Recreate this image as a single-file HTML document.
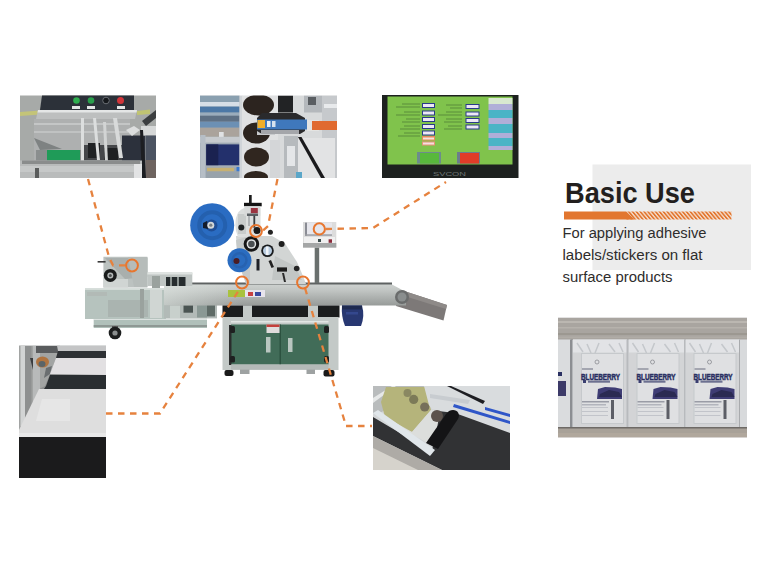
<!DOCTYPE html>
<html><head><meta charset="utf-8">
<style>
html,body{margin:0;padding:0;background:#fff;width:768px;height:576px;overflow:hidden}
svg{display:block}
text{font-family:"Liberation Sans",sans-serif}
</style></head><body>
<svg width="768" height="576" viewBox="0 0 768 576">
<defs>
<pattern id="hatch" patternUnits="userSpaceOnUse" width="3.85" height="8" patternTransform="translate(0,211.5) skewX(40)">
<rect width="3.85" height="8" fill="#f4dccb"/><rect width="2.1" height="8" fill="#e2762f"/>
</pattern>
<linearGradient id="conv" x1="0" y1="0" x2="0" y2="1">
<stop offset="0" stop-color="#cdd1cf"/><stop offset="0.3" stop-color="#c0c4c2"/><stop offset="0.6" stop-color="#aeb2b0"/><stop offset="1" stop-color="#979b99"/>
</linearGradient>
<linearGradient id="steel" x1="0" y1="0" x2="1" y2="0">
<stop offset="0" stop-color="#c8cecb"/><stop offset="0.5" stop-color="#dde1df"/><stop offset="1" stop-color="#b5bbb8"/>
</linearGradient>
<clipPath id="c2"><rect x="200" y="95.5" width="137" height="82.5"/></clipPath>
<clipPath id="c4"><rect x="558" y="317.5" width="189" height="120"/></clipPath>
<clipPath id="c5"><rect x="19" y="345.5" width="87" height="132.5"/></clipPath>
<clipPath id="c6"><rect x="373" y="386" width="137" height="84"/></clipPath>
<linearGradient id="convfade" x1="0" y1="0" x2="1" y2="0">
<stop offset="0" stop-color="#dfe6e2" stop-opacity="0.6"/><stop offset="1" stop-color="#dfe6e2" stop-opacity="0"/>
</linearGradient>
</defs>
<rect width="768" height="576" fill="#fff"/>
<!-- P1 feeder photo -->
<g>
<rect x="20" y="95.5" width="136" height="82.5" fill="#a7aaa8"/>
<path d="M20 112 L40 110.5 L40 114.5 L20 116Z" fill="#c4c478"/>
<path d="M137 111 L150 109.5 L150 114 L137 115Z" fill="#c0c472"/>
<path d="M42 95.5 H134 V110 H40Z" fill="#2c3139"/>
<circle cx="76.5" cy="100.5" r="3.3" fill="#2fae4f"/>
<circle cx="91" cy="100.5" r="3.3" fill="#2a9f4c"/>
<circle cx="106" cy="100.5" r="3.3" fill="#15181c" stroke="#6a6e74" stroke-width="1"/>
<circle cx="120.5" cy="100.5" r="3.5" fill="#d2353a"/>
<rect x="72" y="106" width="8" height="3" fill="#e4e6e6"/>
<rect x="87" y="106" width="8" height="3" fill="#e4e6e6"/>
<rect x="117" y="106" width="8" height="3" fill="#e4e6e6"/>
<path d="M38 110 H137 L135 119 H36Z" fill="#bdbfbf"/>
<path d="M38 110 H137 L136.5 112.5 H37.5Z" fill="#e4e6e6"/>
<path d="M34 119 H130 V160 H34Z" fill="#aeb0b0"/>
<path d="M34 123 H130 V125 H34Z" fill="#c4c6c6"/>
<path d="M34 131 H128 V133 H34Z" fill="#c0c2c2"/>
<path d="M34 138 L62 149 L40 150Z" fill="#7e8282"/>
<path d="M36 150 H84 V161 H36Z" fill="#8a8e8e"/>
<path d="M47 150 H80 V160.5 H47Z" fill="#1f9b58"/>
<path d="M82 145 H122 V160.5 H82Z" fill="#45474a"/>
<path d="M88 143 H100 V158 H88Z" fill="#202224"/>
<path d="M104 148 H118 V160 H104Z" fill="#1e2022"/>
<path d="M122 135.5 H145 V162 H122Z" fill="#2c313c"/>
<path d="M141 126 H156 V135.5 H141Z" fill="#d6d8d8"/>
<path d="M145.4 135.5 H156 V178 H145.4Z" fill="#4c5462"/>
<path d="M145.4 160 H156 V178 H145.4Z" fill="#6e6460"/>
<path d="M140 130 L143 130 L146 178 L142 178Z" fill="#1c1e22"/>
<path d="M126 130 L134 126 L140 130 L132 136Z" fill="#dcdede"/>
<rect x="81" y="118" width="3" height="44" fill="#dcdede"/>
<path d="M93 118 L96 118 L100 160 L97 160Z" fill="#dcdede"/>
<path d="M103 122 L106 122 L108 162 L105 162Z" fill="#d2d4d4"/>
<path d="M113 118 L117 118 L123 158 L119 158Z" fill="#d8dada"/>
<path d="M142 121 L156 110 V118 L146 126Z" fill="#3b3e40"/>
<path d="M20 160.5 H142 V178 H20Z" fill="#b9bbbb"/>
<path d="M22 160.5 H140 V164 H22Z" fill="#8a8c8c"/>
<path d="M20 166 H140 V172 H20Z" fill="#c6c8c8"/>
<path d="M134 164 H142 V178 H134Z" fill="#e2e3e4"/>
<rect x="35" y="168" width="4" height="10" fill="#5a5c5c"/>
</g>
<!-- P2 label head photo -->
<g clip-path="url(#c2)">
<rect x="200" y="95.5" width="137" height="82.5" fill="#cdd0d2"/>
<rect x="200" y="95.5" width="39.5" height="82.5" fill="#9aa6b0"/>
<rect x="200" y="95.5" width="39.5" height="6.5" fill="#8aa0b0"/>
<rect x="200" y="102" width="39.5" height="4.6" fill="#d6dee6"/>
<rect x="200" y="106.6" width="39.5" height="6" fill="#4c78a6"/>
<rect x="200" y="112.6" width="39.5" height="3.1" fill="#9aacbc"/>
<rect x="200" y="115.7" width="39.5" height="6" fill="#5e7084"/>
<rect x="200" y="121.7" width="39.5" height="6" fill="#6c90b4"/>
<rect x="200" y="127.7" width="39.5" height="9.1" fill="#aaa39c"/>
<rect x="219" y="132" width="4.7" height="6" fill="#e0e2e4"/>
<rect x="200" y="136.8" width="39.5" height="6" fill="#c6cace"/>
<rect x="200.3" y="135" width="5.2" height="43" fill="#b6bec6"/>
<rect x="206" y="142.8" width="33.5" height="2" fill="#a0aab4"/>
<rect x="206.3" y="144.4" width="33.2" height="21.1" fill="#23306c"/>
<rect x="206.3" y="144.4" width="12" height="21.1" fill="#1a2250"/>
<rect x="206" y="165.5" width="33.5" height="2.3" fill="#a4acb4"/>
<rect x="207" y="167.8" width="27" height="3.7" fill="#c6b072"/>
<rect x="236.5" y="167" width="3.5" height="4.5" fill="#3a78d0"/>
<rect x="206" y="171.5" width="33.5" height="6.5" fill="#98a2aa"/>
<rect x="239.5" y="95.5" width="3" height="82.5" fill="#d0d4d8"/>
<rect x="242" y="95.5" width="36" height="82.5" fill="#e0e1e2"/>
<ellipse cx="258.5" cy="105" rx="15.5" ry="10.5" fill="#2c241f"/>
<ellipse cx="256.5" cy="133" rx="13.5" ry="10.5" fill="#2c241f"/>
<ellipse cx="256.5" cy="157" rx="12.5" ry="9.5" fill="#30261f"/>
<ellipse cx="256" cy="177" rx="12" ry="6" fill="#30261f"/>
<rect x="257" y="129" width="18" height="6" fill="#c8cacc"/>
<rect x="278" y="95.5" width="59" height="82.5" fill="#d8dadb"/>
<rect x="278" y="95.5" width="15" height="17" fill="#222325"/>
<rect x="304" y="95.5" width="18" height="17" fill="#b4b8bc"/>
<rect x="308" y="97" width="8" height="8" fill="#5a5e62"/>
<rect x="322" y="95.5" width="15" height="82.5" fill="#c6c9cc"/>
<rect x="324" y="104" width="13" height="4" fill="#e8eaec"/>
<path d="M262 113 H296 L305 118 V131 L300 134 H262 L257 131 V118Z" fill="#2a2a2c"/>
<rect x="257" y="119.5" width="50" height="10" fill="#3f78bc"/>
<rect x="257.5" y="120" width="7.5" height="8" fill="#f0ae2a"/>
<rect x="267" y="121" width="3.5" height="6" fill="#e6eef6"/>
<rect x="272" y="121" width="3.5" height="6" fill="#d6e2ee"/>
<rect x="307" y="120" width="12" height="11" fill="#e4e4e2"/>
<rect x="312" y="121" width="25" height="9" fill="#e06a30"/>
<rect x="261" y="130" width="38" height="4" fill="#a4a6aa"/>
<rect x="284" y="136" width="14" height="42" fill="#b6babd"/>
<rect x="287" y="146" width="8" height="20" fill="#e4e6e8"/>
<rect x="270" y="140" width="10" height="38" fill="#d4d6d8"/>
<rect x="298" y="138" width="37" height="40" fill="#e2e3e4"/>
<path d="M298 137 L301.5 137 L325 178 L321 178Z" fill="#1a1a1c"/>
<rect x="296" y="172" width="6" height="6" fill="#5aa6c8"/>
</g>
<!-- P3 screen photo -->
<g>
<rect x="382" y="95" width="136.5" height="83" fill="#1d211f"/>
<rect x="387.5" y="96.5" width="125" height="68" fill="#80c34c"/>
<g fill="#5c8f3c" opacity="0.5">
<rect x="402" y="103" width="18" height="2"/><rect x="396" y="106" width="24" height="2"/>
<rect x="404" y="111" width="16" height="2"/><rect x="396" y="114" width="24" height="2"/>
<rect x="406" y="118" width="14" height="2"/><rect x="402" y="121" width="18" height="2"/>
<rect x="404" y="125" width="16" height="2"/><rect x="400" y="128" width="20" height="2"/>
<rect x="404" y="132" width="16" height="2"/><rect x="398" y="135" width="22" height="2"/>
<rect x="446" y="104" width="16" height="2"/><rect x="450" y="107" width="12" height="2"/>
<rect x="446" y="111" width="16" height="2"/><rect x="438" y="114" width="24" height="2"/>
<rect x="446" y="118" width="16" height="2"/><rect x="444" y="121" width="18" height="2"/>
<rect x="448" y="125" width="14" height="2"/><rect x="444" y="128" width="18" height="2"/>
</g>
<g fill="#ece8f4" stroke="#2a3a8a" stroke-width="1">
<rect x="422.5" y="103.5" width="12" height="4"/><rect x="422.5" y="111" width="12" height="4"/>
<rect x="422.5" y="117.5" width="12" height="4"/><rect x="422.5" y="124.5" width="12" height="4"/>
<rect x="422.5" y="131" width="12" height="4"/>
<rect x="466" y="104.5" width="13" height="4"/><rect x="466" y="112" width="13" height="4"/>
<rect x="466" y="118.5" width="13" height="4"/><rect x="466" y="125" width="13" height="4"/>
</g>
<rect x="422" y="136" width="13" height="4.5" fill="#e88a5a"/><rect x="423" y="137.5" width="11" height="2" fill="#f4e4dc"/>
<rect x="422" y="141.5" width="13" height="4" fill="#e8907a"/><rect x="423" y="142.5" width="11" height="2" fill="#f4e0e0"/>
<rect x="488.5" y="98" width="24" height="6" fill="#d8e8d0"/>
<rect x="488.5" y="104" width="24" height="6" fill="#b0aed8"/>
<rect x="488.5" y="110" width="24" height="8" fill="#4ab4c6"/>
<rect x="488.5" y="118" width="24" height="6" fill="#b0aed8"/>
<rect x="488.5" y="124" width="24" height="9" fill="#4ab4c6"/>
<rect x="488.5" y="133" width="24" height="5" fill="#b0aed8"/>
<rect x="488.5" y="138" width="24" height="8" fill="#4ab4c6"/>
<rect x="488.5" y="146" width="24" height="4" fill="#b0aed8"/>
<rect x="417" y="152" width="24" height="11.5" fill="#6c8c8c"/>
<rect x="420" y="153" width="19" height="10.5" fill="#58b83c"/>
<rect x="457" y="152" width="23" height="11.5" fill="#6c7c8c"/>
<rect x="460" y="153" width="19" height="10.5" fill="#e03c28"/>
<text x="433" y="176" font-size="5.5" fill="#6e7676" textLength="33" lengthAdjust="spacingAndGlyphs">SVCON</text>
</g>
<!-- Basic use panel -->
<rect x="592.5" y="164.5" width="158.5" height="105.5" fill="#ececec"/>
<!-- P4 bags photo -->
<g clip-path="url(#c4)">
<rect x="558" y="317.5" width="189" height="120" fill="#dfe0e2"/>
<rect x="558" y="317.5" width="189" height="22.5" fill="#a9a5a0"/>
<rect x="558" y="321" width="189" height="2" fill="#bbb7b1"/>
<rect x="558" y="327" width="189" height="1.5" fill="#b6b2ac"/>
<rect x="558" y="333" width="189" height="2" fill="#9c9891"/>
<rect x="558" y="336.5" width="189" height="1.5" fill="#b0aca6"/>
<rect x="558" y="427" width="189" height="10.5" fill="#a8a198"/>
<rect x="558" y="427" width="189" height="1.5" fill="#6e6a66"/>
<rect x="558" y="433" width="189" height="4.5" fill="#b0a79c"/>
<rect x="558" y="339.5" width="13" height="87.5" fill="#dadcde"/>
<rect x="558" y="372" width="4" height="4" fill="#2a3062"/>
<path d="M558 381 H566 V396 H558Z" fill="#3c3a68"/>
<rect x="570" y="339.5" width="2.5" height="87.5" fill="#8c8e92"/>
<g transform="translate(573,0)">
<rect x="0" y="339.5" width="54" height="87.5" fill="#d3d4d6"/>
<rect x="0" y="339.5" width="54" height="13" fill="#e2e3e6"/>
<path d="M4 343 L10 352 M14 344 L18 353 M26 343 L22 353 M36 344 L42 352 M46 343 L50 352" stroke="#c4c7cb" stroke-width="1.5"/>
<rect x="8.5" y="353.5" width="42" height="70" fill="#dfe0e2" stroke="#c6c9cc" stroke-width="1"/>
<circle cx="24" cy="362" r="2" fill="none" stroke="#8a8c92" stroke-width="0.8"/>
<rect x="9" y="368" width="11" height="2" fill="#a4a6b0"/>
<text x="8" y="379.5" font-size="8.6" font-weight="bold" fill="#2a3062" textLength="39" lengthAdjust="spacingAndGlyphs" stroke="#2a3062" stroke-width="0.5">BLUEBERRY</text>
<rect x="10" y="380" width="3" height="3" fill="#3a3e70"/>
<rect x="15" y="380.5" width="22" height="2.2" fill="#6c7090"/>
<path d="M24 399 L25 389 L32 387 L42 387.5 L49 389 V399Z" fill="#3e3c74"/>
<path d="M27 394 L36 390 L46 392 L49 397 H26Z" fill="#2a2a52"/>
<rect x="9" y="401" width="27" height="1.5" fill="#9a9ca6"/>
<rect x="9" y="404" width="24" height="1.5" fill="#b2b4bc"/>
<rect x="38" y="400" width="3" height="19" fill="#5c5e66"/>
<rect x="9" y="407" width="26" height="1" fill="#c2c4ca"/>
<rect x="9" y="411" width="26" height="1" fill="#c2c4ca"/>
<rect x="9" y="415" width="26" height="1" fill="#c2c4ca"/>
</g>
<g transform="translate(628.5,0)">
<rect x="0" y="339.5" width="56" height="87.5" fill="#d3d4d6"/>
<rect x="0" y="339.5" width="56" height="13" fill="#e2e3e6"/>
<path d="M4 343 L10 352 M14 344 L18 353 M26 343 L22 353 M36 344 L42 352 M46 343 L50 352" stroke="#c4c7cb" stroke-width="1.5"/>
<rect x="8.5" y="353.5" width="42" height="70" fill="#dfe0e2" stroke="#c6c9cc" stroke-width="1"/>
<circle cx="24" cy="362" r="2" fill="none" stroke="#8a8c92" stroke-width="0.8"/>
<rect x="9" y="368" width="11" height="2" fill="#a4a6b0"/>
<text x="8" y="379.5" font-size="8.6" font-weight="bold" fill="#2a3062" textLength="39" lengthAdjust="spacingAndGlyphs" stroke="#2a3062" stroke-width="0.5">BLUEBERRY</text>
<rect x="10" y="380" width="3" height="3" fill="#3a3e70"/>
<rect x="15" y="380.5" width="22" height="2.2" fill="#6c7090"/>
<path d="M24 399 L25 389 L32 387 L42 387.5 L49 389 V399Z" fill="#3e3c74"/>
<path d="M27 394 L36 390 L46 392 L49 397 H26Z" fill="#2a2a52"/>
<rect x="9" y="401" width="27" height="1.5" fill="#9a9ca6"/>
<rect x="9" y="404" width="24" height="1.5" fill="#b2b4bc"/>
<rect x="38" y="400" width="3" height="19" fill="#5c5e66"/>
<rect x="9" y="407" width="26" height="1" fill="#c2c4ca"/>
<rect x="9" y="411" width="26" height="1" fill="#c2c4ca"/>
<rect x="9" y="415" width="26" height="1" fill="#c2c4ca"/>
</g>
<g transform="translate(685.5,0)">
<rect x="0" y="339.5" width="54" height="87.5" fill="#d3d4d6"/>
<rect x="0" y="339.5" width="54" height="13" fill="#e2e3e6"/>
<path d="M4 343 L10 352 M14 344 L18 353 M26 343 L22 353 M36 344 L42 352 M46 343 L50 352" stroke="#c4c7cb" stroke-width="1.5"/>
<rect x="8.5" y="353.5" width="42" height="70" fill="#dfe0e2" stroke="#c6c9cc" stroke-width="1"/>
<circle cx="24" cy="362" r="2" fill="none" stroke="#8a8c92" stroke-width="0.8"/>
<rect x="9" y="368" width="11" height="2" fill="#a4a6b0"/>
<text x="8" y="379.5" font-size="8.6" font-weight="bold" fill="#2a3062" textLength="39" lengthAdjust="spacingAndGlyphs" stroke="#2a3062" stroke-width="0.5">BLUEBERRY</text>
<rect x="10" y="380" width="3" height="3" fill="#3a3e70"/>
<rect x="15" y="380.5" width="22" height="2.2" fill="#6c7090"/>
<path d="M24 399 L25 389 L32 387 L42 387.5 L49 389 V399Z" fill="#3e3c74"/>
<path d="M27 394 L36 390 L46 392 L49 397 H26Z" fill="#2a2a52"/>
<rect x="9" y="401" width="27" height="1.5" fill="#9a9ca6"/>
<rect x="9" y="404" width="24" height="1.5" fill="#b2b4bc"/>
<rect x="38" y="400" width="3" height="19" fill="#5c5e66"/>
<rect x="9" y="407" width="26" height="1" fill="#c2c4ca"/>
<rect x="9" y="411" width="26" height="1" fill="#c2c4ca"/>
<rect x="9" y="415" width="26" height="1" fill="#c2c4ca"/>
</g>
<rect x="626.5" y="339.5" width="2" height="87.5" fill="#b8babd"/>
<rect x="684" y="339.5" width="1.5" height="87.5" fill="#b8babd"/>
<rect x="739" y="339.5" width="8" height="87.5" fill="#d8dadc"/>
<rect x="739" y="339.5" width="1" height="87.5" fill="#a8aaad"/>
</g>
<!-- P5 bottom-left photo -->
<g clip-path="url(#c5)">
<rect x="19" y="345.5" width="87" height="132.5" fill="#8c8e8e"/>
<path d="M19 345.5 H60 L56 358 L50 374 L45 386 L39 389 L19 432Z" fill="#a2a4a3"/>
<rect x="20.5" y="346" width="4.5" height="80" fill="#d2d4d4"/>
<rect x="25" y="346" width="6.5" height="78" fill="#8e9090"/>
<path d="M30 358 L33 358 L40 384 L37 386Z" fill="#3a3c3e"/>
<path d="M33 346 H40 V395 L33 405Z" fill="#b8baba"/>
<rect x="36" y="346" width="22" height="7" fill="#5a5c5e"/>
<ellipse cx="42.5" cy="362" rx="6.5" ry="5.5" fill="#b07440"/><ellipse cx="42" cy="364" rx="3.5" ry="3" fill="#5a6468"/>
<path d="M46 368 L52 366 L50 374 L44 378Z" fill="#6a6e70"/>
<path d="M57 345.5 H106 V351 H58Z" fill="#c4c5c6"/>
<path d="M58 351 H106 V358 H56Z" fill="#2e3134"/>
<path d="M56 358 H106 V375 L50 374Z" fill="#e2e0e2"/>
<path d="M50 375 H106 V389 H44 L46 386Z" fill="#2a2e31"/>
<path d="M39 389 H106 V437 H19 V430Z" fill="#dedede"/>
<path d="M42 399 H70 V421 H36Z" fill="#e6e6e6"/>
<path d="M19 433 H106 V437 H19Z" fill="#e8e8e8"/>
<rect x="19" y="437" width="87" height="41" fill="#1b1b1c"/>
</g>
<!-- P6 bottom-right photo -->
<g clip-path="url(#c6)">
<rect x="373" y="386" width="137" height="84" fill="#d3d6d8"/>
<path d="M373 386 H425 L380 413 H373Z" fill="#b9bcbd"/>
<path d="M373 398 L392 386 L396 386 L373 403Z" fill="#e6e8e8"/>
<path d="M386 387 L425 387 L431 410 L412 432 L386 421 L381 402Z" fill="#b5b47b"/>
<circle cx="407.5" cy="393" r="4" fill="#8a8862"/>
<circle cx="413.7" cy="399.4" r="4.6" fill="#7c7a58"/>
<circle cx="424.7" cy="407" r="4.6" fill="#76705a"/>
<path d="M424 386 H510 V433 L455 414 L432 409 L429 405Z" fill="#d9dcde"/>
<path d="M430 394 L470 400 L468 404 L430 398Z" fill="#c8ccd0"/>
<path d="M447 386 L451 386 L485 401 L483 404Z" fill="#1e1e22"/>
<path d="M454 404 L510 421 L510 424 L453 407Z" fill="#2f56c8"/>
<path d="M485 407 L510 414 L510 417 L485 410Z" fill="#2f56c8"/>
<path d="M373 417 L432 452 L438 411 L455 413 L510 433 V470 H442 L373 436Z" fill="#313234"/>
<path d="M373 436 L442 470 H373Z" fill="#aeaba6"/>
<path d="M373 448 L418 470 H373Z" fill="#d6d3cc"/>
<path d="M380 414 L412 432 L431 410 L440 411 L434 446 L376 416Z" fill="#dcdedc"/>

<path d="M373 413 L378 410 L435 450 L430 456Z" fill="#e0e6ea"/>
<circle cx="437" cy="416" r="6" fill="#5c524c"/>
<path d="M449 411 C456 408 461 413 458 419 L438 449 L426 443 L446 414Z" fill="#141416"/>
</g>
<!-- MACHINE -->
<g>
<!-- base rail of feeder -->
<rect x="93.7" y="319.5" width="113.3" height="8.5" fill="#b0c0ba"/>
<rect x="93.7" y="318.4" width="113.3" height="1.5" fill="#dce2df"/>
<rect x="93.7" y="325" width="113.3" height="2" fill="#8e9894"/>
<rect x="112" y="326" width="6" height="3" fill="#555"/>
<circle cx="115" cy="333" r="6.3" fill="#1c1e1e"/>
<circle cx="115" cy="333" r="2.6" fill="#8a8e8e"/>
<!-- feeder main box -->
<rect x="85" y="288.5" width="81" height="30.5" fill="#b6c3be"/>
<rect x="85" y="288.5" width="81" height="1.5" fill="#d4dcd8"/>
<rect x="87" y="292" width="20" height="4" fill="#b2bab6"/>
<rect x="108" y="300" width="40" height="17" fill="#aab4b0"/>
<rect x="140" y="289" width="4" height="29" fill="#9aa29e"/>
<rect x="150" y="290" width="12" height="28" fill="#d0d6d3"/>
<rect x="164" y="288" width="2.5" height="30" fill="#4a524e"/>
<!-- hopper -->
<path d="M103.4 256.8 H147.4 V287.5 H103.4Z" fill="#bcc2c0"/>
<path d="M105 258 L125 279 L147.4 277 V258Z" fill="#a9afad"/>
<path d="M128 257 H147.4 V287 H134Z" fill="#b6bcba"/>
<path d="M103.4 279 H128 V287.5 H103.4Z" fill="#d0d5d3"/>
<rect x="97.6" y="261" width="8" height="1.6" fill="#3a3a3a"/>
<circle cx="110.3" cy="275.4" r="6.5" fill="#1a1c1c"/>
<circle cx="110.3" cy="275.4" r="3" fill="#b4b8b8"/>
<circle cx="110.3" cy="275.4" r="1.5" fill="#4a4e4e"/>
<!-- under conveyor mechanism -->
<rect x="164" y="305" width="53" height="13.4" fill="#b2bab7"/>
<rect x="183.5" y="304.7" width="9.5" height="8" fill="#4a5452"/>
<rect x="197" y="300" width="10" height="17.5" fill="#8a9894"/>
<rect x="207" y="304.7" width="8" height="11.7" fill="#5e6a66"/>
<rect x="170" y="305" width="10" height="13" fill="#c8d0cc"/>
<!-- conveyor -->
<rect x="164" y="282.5" width="228" height="2.5" fill="#5e6262"/>
<path d="M398 289 L447 305 L443.5 320.5 L396 306Z" fill="#7d7978"/>
<path d="M398 289 L447 305 L446 309 L398 294Z" fill="#8e8a88"/>
<path d="M164 284.5 H392 L406 292 V305.5 H164Z" fill="url(#conv)"/>
<rect x="164" y="284.5" width="80" height="21" fill="url(#convfade)"/>
<circle cx="402" cy="297" r="7" fill="#6a6c6c"/>
<circle cx="402" cy="297" r="4.5" fill="#8a8e8e"/>
<rect x="228" y="290" width="17" height="7" fill="#a9c23e"/>
<rect x="245" y="290" width="20" height="7" fill="#e8e4ec"/>
<rect x="248" y="292" width="5" height="4" fill="#c84040"/>
<rect x="255" y="292" width="6" height="4" fill="#3a4aa0"/>
<!-- transfer tray -->
<path d="M147.4 272.5 H192.3 V286 H147.4Z" fill="#bfc5c3"/>
<rect x="147.4" y="272.5" width="45" height="2" fill="#e0e4e2"/>
<rect x="166" y="277" width="19.5" height="9" fill="#262c2e"/>
<rect x="170" y="277" width="2" height="9" fill="#8a9290"/>
<rect x="177" y="277" width="2" height="9" fill="#8a9290"/>
<rect x="152" y="276" width="8" height="12" fill="#9aa29e"/>
<!-- cabinet -->
<rect x="222.5" y="305.5" width="117" height="12" fill="#1b1d1e"/>
<rect x="243" y="305.5" width="9" height="12" fill="#c4cac8"/>
<rect x="308" y="305.5" width="10" height="12" fill="#c4cac8"/>
<rect x="222.5" y="317" width="116" height="53" fill="#c3c9c7"/>
<rect x="231" y="321" width="97.5" height="1.5" fill="#e2e6e4"/>
<rect x="231" y="324.5" width="97.5" height="40" fill="#416c58"/>
<rect x="279.5" y="324.5" width="1.5" height="40" fill="#2c5240"/>
<rect x="266.5" y="324.5" width="13" height="8.5" fill="#e0dcdc"/>
<rect x="266.5" y="324.5" width="13" height="2.5" fill="#c4403c"/>
<rect x="266" y="337" width="4.5" height="15.5" fill="#b9c6c0"/>
<rect x="288" y="338" width="4.5" height="14" fill="#b9c6c0"/>
<rect x="229" y="325" width="2.5" height="40" fill="#2a2c2c"/>
<rect x="230" y="326" width="5" height="7" rx="1.5" fill="#1e2020"/>
<rect x="230" y="356" width="5" height="6.5" rx="1.5" fill="#1e2020"/>
<rect x="324" y="326" width="5" height="7" rx="1.5" fill="#1e2020"/>
<rect x="324" y="356" width="5" height="6.5" rx="1.5" fill="#1e2020"/>
<rect x="231" y="364.5" width="97.5" height="5" fill="#b4bab8"/>
<rect x="224.5" y="370" width="9" height="6" rx="2" fill="#1a1a1a"/>
<rect x="323.5" y="370" width="11" height="6.5" rx="2" fill="#1a1a1a"/>
<rect x="240" y="369.5" width="9.5" height="4.5" fill="#9ea2a2"/>
<rect x="306.5" y="369.5" width="8.5" height="4.5" fill="#9ea2a2"/>
<!-- blue motor -->
<path d="M342 305.5 H362 Q365 316 361 326 H345 Q341 316 342 305.5Z" fill="#283872"/><rect x="342" y="305.5" width="20" height="4" fill="#1e2a50"/>

<rect x="346" y="312" width="12" height="2.5" fill="#34488e"/>
<!-- label head -->
<path d="M236 236 L272 236 L285 243.5 L297 262 L303 276 L306 284 H248 L238 262Z" fill="#d2d5d4"/>
<path d="M275 256 L295 266 L302 280 H272Z" fill="#c2c6c5"/>
<path d="M236 240 L250 236 L250 284 H246 L238 262Z" fill="#c6cac9"/>
<path d="M244 208 H260.5 V237 H238 Q234 228 236 218 Q238 210 244 208Z" fill="#dcdfde"/>
<rect x="238" y="214" width="8" height="20" fill="#c8cccb"/>
<rect x="249" y="195" width="2.7" height="8" fill="#1c1c1c"/>
<rect x="244" y="202.8" width="17.7" height="3.5" fill="#141414"/>
<rect x="244.3" y="206.3" width="16" height="9.5" fill="#d8dada"/>
<rect x="250.8" y="208" width="7" height="5.2" fill="#9a3440"/>
<rect x="247" y="213.5" width="11" height="2.5" fill="#5a6064"/>
<rect x="253.4" y="215.8" width="1.8" height="12" fill="#3a3e40"/>
<rect x="248" y="216" width="2" height="10" fill="#b0b4b6"/>
<circle cx="241.3" cy="227.6" r="3" fill="#1e2224"/>
<circle cx="257" cy="230.6" r="3.5" fill="#1a1a1a"/>
<circle cx="270.4" cy="232.3" r="2.5" fill="#222"/>
<circle cx="251.4" cy="244" r="7.8" fill="#161616"/>
<circle cx="251.4" cy="244" r="4.8" fill="#e2e4e4"/>
<circle cx="251.4" cy="244" r="3.3" fill="#4a4e50"/>
<circle cx="267.5" cy="250.8" r="6.3" fill="#1a1c1e"/>
<circle cx="267.5" cy="250.8" r="4.5" fill="#b8cce0"/>
<rect x="266" y="246.5" width="2.5" height="8.5" fill="#f0f4f8"/>
<circle cx="281.6" cy="244" r="3" fill="#1e1e1e"/>
<rect x="256.5" y="259" width="3" height="11.5" fill="#1e2026"/>
<path d="M268.5 261 L271 260 L274 267 L271.5 268Z" fill="#222"/>
<rect x="277" y="267.4" width="10" height="4.2" fill="#1c1c1c"/>
<circle cx="296.7" cy="268.5" r="2.8" fill="#262626"/>
<path d="M282 273 L284 273 L286 282 L284 282Z" fill="#2a2a2a"/>
<!-- blue reels -->
<circle cx="212.2" cy="225.2" r="22" fill="#2a6cc2"/>
<circle cx="212.2" cy="225.2" r="13" fill="none" stroke="#2460ae" stroke-width="4"/>
<circle cx="211.5" cy="225.5" r="6" fill="#1f4e96"/>
<path d="M203 223 L207 221 L208 229 L203 228Z" fill="#141c2c"/>
<circle cx="210.8" cy="225.2" r="3.5" fill="#d4d8da"/>
<circle cx="210.8" cy="225.2" r="1.6" fill="#7a8084"/>
<circle cx="239.5" cy="260.3" r="12" fill="#2a6cc0"/>
<circle cx="239.5" cy="260.3" r="7" fill="none" stroke="#2762b0" stroke-width="2.5"/>
<circle cx="236.5" cy="261" r="3" fill="#4a1c24"/>
<!-- control box -->
<rect x="314.7" y="247" width="4.5" height="36" fill="#6a706e"/>
<rect x="303" y="222" width="33.3" height="25.6" fill="#dcdcdc"/>
<rect x="305" y="222.6" width="27" height="13.2" fill="#e6e6ec"/>
<rect x="305" y="222.6" width="2" height="13.2" fill="#8a8c94"/>
<rect x="305" y="234.3" width="27" height="1.5" fill="#9a9ca2"/>
<rect x="304" y="237" width="31" height="6" fill="#f0f0f0"/>
<rect x="318" y="239" width="3" height="3" fill="#3a4a4a"/>
<rect x="328.6" y="239.3" width="3.4" height="3.5" fill="#8a2a3a"/>
<rect x="303" y="243" width="33.3" height="4.6" fill="#a4a6a6"/>
</g>
<!-- DASHED LINES -->
<g fill="none" stroke="#e6823e" stroke-width="2.3" stroke-dasharray="6.5 5.5">
<path d="M88 179 L109 257 L113 265.3 L126 265.3"/>
<path d="M277.5 179 L268 226 L262.5 231"/>
<path d="M325.5 229 L373 228 L446 182"/>
<path d="M106 413.5 L160 413.5 L239 290"/>
<path d="M305 288 L346 426 L372 426"/>
</g>
<g fill="none" stroke="#e8762e" stroke-width="2">
<circle cx="132" cy="265.5" r="5.9"/>
<circle cx="256" cy="231" r="5.9"/>
<circle cx="242" cy="282.5" r="5.9"/>
<circle cx="303" cy="282.5" r="5.9"/>
<circle cx="319.3" cy="228.9" r="5.6"/>
</g>
<!-- TEXT -->
<text x="565" y="203" font-size="29" font-weight="bold" fill="#231f1e" textLength="130" lengthAdjust="spacingAndGlyphs">Basic Use</text>
<rect x="626" y="211.5" width="105.5" height="8" fill="url(#hatch)"/>
<path d="M564 211.5 H626 L634.5 219.5 H564Z" fill="#e2762f"/>
<text x="562.5" y="237.5" font-size="14" fill="#2e2c2c" textLength="144" lengthAdjust="spacingAndGlyphs">For applying adhesive</text>
<text x="562.5" y="259.5" font-size="14" fill="#2e2c2c" textLength="140" lengthAdjust="spacingAndGlyphs">labels/stickers on flat</text>
<text x="562.5" y="281.5" font-size="14" fill="#2e2c2c" textLength="110" lengthAdjust="spacingAndGlyphs">surface products</text>
</svg>
</body></html>
